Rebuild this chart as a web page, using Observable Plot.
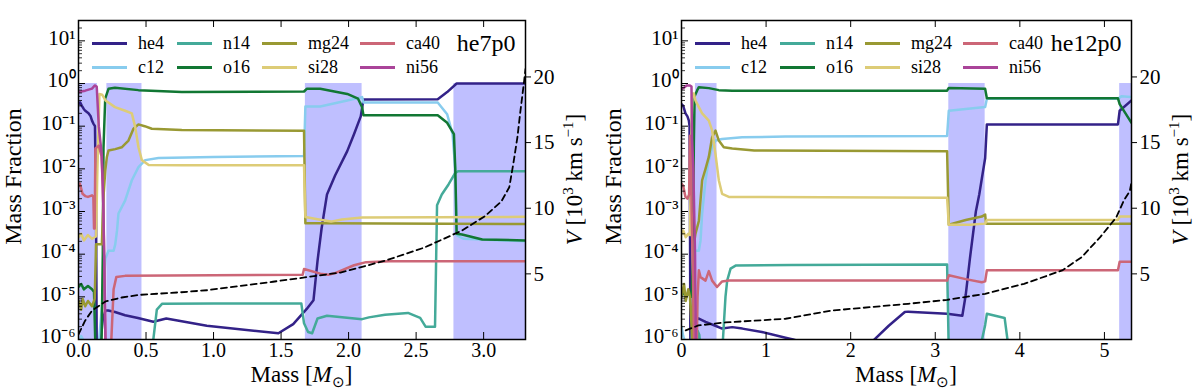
<!DOCTYPE html>
<html><head><meta charset="utf-8">
<script src="https://cdn.jsdelivr.net/npm/d3@7"></script>
<script src="https://cdn.jsdelivr.net/npm/@observablehq/plot@0.6"></script>
<style>
body{margin:0;background:#fff;}
#wrap{position:relative;width:1200px;height:389px;font-family:"Liberation Serif",serif;}
.panel{position:absolute;top:0;width:600px;height:389px;}
.panel svg{position:absolute;left:0;top:0;}
.leg{position:absolute;display:flex;align-items:center;height:22px;color:#000;white-space:nowrap;}
.leg span{display:inline-block;width:35px;height:0;margin-right:11px;}
</style></head><body><div id="wrap"></div><script>
// ---------- shared ----------
const species = ["he4","c12","n14","o16","mg24","si28","ca40","ni56"];
const colors  = ["#332288","#88ccee","#44aa99","#117733","#999933","#ddcc77","#cc6677","#aa4499"];
const logDomain = [1e-6, 30];
const velDomain = [0, 24.3];
const velTicks = [5, 10, 15, 20];

// ---------- he7p0 ----------
const he7Title = "he7p0";
const he7XTicks = [0, 0.5, 1.0, 1.5, 2.0, 2.5, 3.0];
const he7XDomain = [0, 3.31];
const he7Spans = [[0,0.14],[0.21,0.47],[1.68,2.10],[2.78,3.31]];
const he7_he4 = [[0,0.33],[0.012,0.36],[0.025,0.3],[0.04,0.25],[0.05,0.23],[0.074,0.2],[0.09,0.17],[0.1,0.135],[0.11,0.115],[0.122,0.1],[0.13,1e-3],[0.135,7e-7],[0.16,7e-7],[0.18,3e-6],[0.2,4.8e-6],[0.22,4.8e-6],[0.27,4.4e-6],[0.345,3.7e-6],[0.44,3.2e-6],[0.554,2.6e-6],[0.65,3.1e-6],[0.95,2.1e-6],[1.48,1.4e-6],[1.59,2.3e-6],[1.69,5.2e-6],[1.74,8.3e-6],[1.77,7e-5],[1.80,4e-4],[1.84,2.5e-3],[1.9,7e-3],[1.99,0.026],[2.04,0.065],[2.09,0.17],[2.11,0.42],[2.66,0.43],[2.73,0.63],[2.8,1.0],[3.31,1.0]];
const he7_c12 = [[0,7e-7],[0.02,1.2e-6],[0.05,8e-7],[0.15,8e-7],[0.18,1e-5],[0.2,8e-5],[0.222,1.2e-4],[0.26,1.2e-4],[0.272,1.7e-4],[0.285,3.5e-4],[0.296,9e-4],[0.345,1.8e-3],[0.395,5.4e-3],[0.444,0.011],[0.494,0.016],[0.592,0.018],[1.0,0.019],[1.67,0.02],[1.68,0.29],[1.79,0.29],[1.99,0.4],[2.1,0.48],[2.11,0.36],[2.66,0.36],[2.73,0.19],[2.77,0.065],[2.79,0.01],[2.8,2.8e-4],[2.85,2.3e-4],[3.31,2e-4]];
const he7_n14 = [[0.54,6e-7],[0.554,1e-6],[0.58,5e-6],[0.62,6.9e-6],[1.0,7e-6],[1.65,7e-6],[1.67,2.4e-6],[1.7,1.5e-6],[1.73,1.4e-6],[1.77,3.1e-6],[1.84,3.6e-6],[2.1,3e-6],[2.15,3.3e-6],[2.27,3.8e-6],[2.44,4.2e-6],[2.53,3.2e-6],[2.57,2e-6],[2.64,2e-6],[2.655,1.4e-3],[2.69,2.5e-3],[2.74,4.3e-3],[2.79,8e-3],[2.81,8.8e-3],[3.31,8.8e-3]];
const he7_o16 = [[0,1.7e-5],[0.02,2e-5],[0.04,1.5e-5],[0.07,1.8e-5],[0.1,1.5e-5],[0.115,1.3e-5],[0.125,7e-7],[0.17,7e-7],[0.18,1e-4],[0.185,0.03],[0.198,0.45],[0.222,0.75],[0.27,0.8],[0.444,0.7],[0.765,0.63],[1.67,0.65],[1.69,0.75],[1.79,0.75],[1.99,0.57],[2.07,0.44],[2.1,0.28],[2.11,0.18],[2.66,0.18],[2.73,0.12],[2.78,0.065],[2.79,0.01],[2.8,3e-4],[2.84,2.9e-4],[2.99,2.2e-4],[3.31,2.1e-4]];
const he7_mg24 = [[0,8e-6],[0.02,5e-6],[0.03,9e-6],[0.05,6e-6],[0.07,8e-6],[0.1,6e-6],[0.12,9e-6],[0.13,1.7e-4],[0.15,1.7e-4],[0.173,1.7e-4],[0.185,2.2e-3],[0.198,9e-3],[0.21,0.019],[0.222,0.027],[0.272,0.029],[0.32,0.032],[0.37,0.046],[0.407,0.087],[0.444,0.11],[0.49,0.1],[0.543,0.087],[0.765,0.081],[1.67,0.078],[1.68,5.3e-4],[1.8,5.3e-4],[3.31,5.1e-4]];
const he7_si28 = [[0,2.5e-4],[0.02,3e-4],[0.04,2.1e-4],[0.07,2.8e-4],[0.1,2.3e-4],[0.13,2.6e-4],[0.14,0.01],[0.155,0.57],[0.175,0.55],[0.2,0.4],[0.27,0.28],[0.345,0.23],[0.395,0.2],[0.42,0.095],[0.444,0.032],[0.469,0.016],[0.52,0.0123],[0.76,0.0122],[1.67,0.0122],[1.68,7.4e-4],[1.78,6.5e-4],[1.87,5.8e-4],[1.95,6.5e-4],[2.1,7.2e-4],[3.31,7.5e-4]];
const he7_ca40 = [[0,4e-3],[0.01,4.5e-3],[0.03,2.6e-3],[0.05,2.3e-3],[0.07,2.2e-3],[0.1,2.4e-3],[0.11,2.2e-3],[0.115,4e-4],[0.12,4e-4],[0.125,0.03],[0.15,0.035],[0.17,0.02],[0.18,4e-3],[0.19,1e-4],[0.2,6e-7],[0.24,6e-7],[0.26,1.5e-5],[0.28,2.9e-5],[0.345,3.1e-5],[1.0,3.2e-5],[1.66,3.3e-5],[1.67,4.5e-5],[1.79,3.5e-5],[1.85,3.3e-5],[1.9,3.6e-5],[2.04,5.5e-5],[2.13,6.5e-5],[2.3,6.8e-5],[3.31,6.8e-5]];
const he7_ni56 = [[0,0.63],[0.05,0.68],[0.1,0.76],[0.12,0.9],[0.135,0.85],[0.15,0.1],[0.173,0.02],[0.185,1e-3],[0.2,1e-6],[0.205,6e-7]];
const he7_vel = [[0,0.4],[0.05,1.45],[0.1,2.2],[0.2,2.9],[0.32,3.2],[0.45,3.4],[0.76,3.6],[0.95,3.75],[1.44,4.4],[1.94,5.1],[2.27,6.0],[2.56,7.0],[2.84,8.3],[3.01,9.4],[3.13,10.5],[3.19,11.6],[3.22,13.4],[3.25,15.4],[3.27,17.2],[3.30,19.7],[3.31,20.6]];

// ---------- he12p0 ----------
const he12Title = "he12p0";
const he12XTicks = [0, 1, 2, 3, 4, 5];
const he12XDomain = [0, 5.32];
const he12Spans = [[0.165,0.42],[3.16,3.59],[5.18,5.32]];
const he12_he4 = [[0,0.33],[0.02,0.3],[0.047,0.2],[0.07,0.17],[0.087,0.135],[0.095,0.1],[0.1,1e-3],[0.105,7e-7],[0.15,7e-7],[0.165,2.3e-6],[0.19,3.1e-6],[0.205,3.1e-6],[0.284,2.6e-6],[0.4,2.1e-6],[0.48,1.8e-6],[0.6,1.95e-6],[0.72,1.8e-6],[0.95,1.5e-6],[1.23,1.1e-6],[1.32,1e-6],[1.6,7e-7],[2.0,5e-7],[2.23,8e-7],[2.45,2.1e-6],[2.64,4.4e-6],[2.68,4.5e-6],[3.14,4e-6],[3.32,3.6e-6],[3.36,1.1e-5],[3.41,8e-5],[3.48,1e-3],[3.52,2.5e-3],[3.59,0.018],[3.61,0.11],[5.16,0.11],[5.18,0.23],[5.32,0.4]];
const he12_c12 = [[0,2e-6],[0.02,1.2e-6],[0.05,8e-7],[0.12,8e-7],[0.14,1e-5],[0.146,1.2e-4],[0.205,1.2e-4],[0.225,2.1e-4],[0.244,9e-4],[0.284,5.4e-3],[0.323,0.016],[0.362,0.032],[0.402,0.046],[0.48,0.05],[0.717,0.055],[1.23,0.057],[3.14,0.059],[3.16,0.23],[3.59,0.28],[3.61,0.44],[5.16,0.44],[5.2,0.5],[5.32,0.48]];
const he12_n14 = [[0,5e-7],[0.17,5e-7],[0.19,1.6e-6],[0.21,1.3e-6],[0.23,5e-7],[0.47,6e-7],[0.49,1e-6],[0.52,1e-5],[0.54,2.4e-5],[0.58,4.6e-5],[0.64,5.4e-5],[1.3,5.6e-5],[3.14,5.7e-5],[3.16,5e-7],[3.52,5e-7],[3.59,2.2e-6],[3.61,4e-6],[3.82,3.2e-6],[3.86,8e-7],[3.9,5e-7]];
const he12_o16 = [[0,1.5e-5],[0.05,1e-5],[0.1,1.3e-5],[0.12,1e-5],[0.135,1e-4],[0.146,0.04],[0.155,0.5],[0.185,0.69],[0.205,0.82],[0.323,0.78],[0.441,0.7],[0.6,0.68],[3.14,0.68],[3.16,0.79],[3.59,0.75],[3.61,0.45],[5.16,0.45],[5.18,0.33],[5.32,0.12]];
const he12_mg24 = [[0,1e-5],[0.03,2e-5],[0.05,8e-6],[0.08,1.5e-5],[0.1,1e-5],[0.13,8e-7],[0.146,1.7e-4],[0.165,3e-4],[0.205,6e-4],[0.244,5.4e-3],[0.284,0.01],[0.323,0.019],[0.362,0.055],[0.402,0.079],[0.441,0.046],[0.5,0.032],[0.6,0.03],[0.86,0.027],[3.14,0.026],[3.16,4.9e-4],[3.36,6.3e-4],[3.55,7.6e-4],[3.59,8.5e-4],[3.6,5.2e-4],[5.32,5.2e-4]];
const he12_si28 = [[0,3e-4],[0.02,3.6e-4],[0.05,2.5e-4],[0.08,3e-4],[0.1,2.8e-4],[0.11,0.01],[0.126,0.58],[0.146,0.58],[0.165,0.4],[0.205,0.28],[0.244,0.2],[0.323,0.135],[0.362,0.08],[0.402,0.022],[0.441,5.4e-3],[0.48,2.6e-3],[0.56,2.2e-3],[0.86,2.2e-3],[3.14,2.1e-3],[3.16,4.9e-4],[3.41,4.9e-4],[3.59,5.2e-4],[3.61,6.3e-4],[5.16,6.3e-4],[5.18,7.6e-4],[5.32,7.6e-4]];
const he12_ca40 = [[0,4.5e-3],[0.02,4e-3],[0.047,2.2e-3],[0.07,2e-3],[0.09,2.5e-3],[0.1,0.06],[0.11,0.03],[0.12,1e-3],[0.14,1e-5],[0.15,6e-7],[0.18,6e-7],[0.19,1e-5],[0.205,4.2e-5],[0.225,2.9e-5],[0.284,2.4e-5],[0.323,4e-5],[0.362,2.4e-5],[0.42,1.7e-5],[0.48,2.3e-5],[0.56,2.4e-5],[3.14,2.4e-5],[3.16,3.2e-5],[3.36,2.6e-5],[3.55,2.2e-5],[3.59,2.3e-5],[3.61,4.2e-5],[5.16,4.2e-5],[5.18,6.6e-5],[5.32,6.6e-5]];
const he12_ni56 = [[0,0.75],[0.03,0.8],[0.06,0.9],[0.1,0.9],[0.118,0.85],[0.125,0.05],[0.14,0.01],[0.16,1e-4],[0.17,6e-7]];
const he12_vel = [[0.05,0.7],[0.2,1.07],[0.52,1.3],[1.23,1.58],[1.77,2.2],[2.68,2.72],[3.14,3.02],[3.59,3.48],[4.05,4.24],[4.5,5.26],[4.73,6.27],[4.95,7.8],[5.14,9.3],[5.23,10.6],[5.3,11.3],[5.32,12.0]];

// ---------- drawing ----------
const W = 600, H = 389, MT = 20, MB = 50;
const sup = {"-":"⁻","0":"⁰","1":"¹","2":"²","3":"³","4":"⁴","5":"⁵","6":"⁶","7":"⁷","8":"⁸","9":"⁹"};
const logFmt = v => "10" + String(Math.round(Math.log10(v))).split("").map(c => sup[c]).join("");
const majors = d3.range(-6, 2).map(k => Math.pow(10, k));
const minors = [];
for (let k = -6; k <= 1; k++) for (let j = 2; j <= 9; j++) { const v = j * Math.pow(10, k); if (v < logDomain[1]) minors.push(v); }
const FONT = "Liberation Serif";
const STYLE = "font-family:'Liberation Serif',serif;font-size:20px;background:transparent;overflow:visible;";

function drawPanel(left, cfg) {
  const {ml, mr, title, xDomain, xTicks, xFmt, spans, series, vel} = cfg;
  const pw = W - ml - mr, ph = H - MT - MB;
  const div = document.createElement("div");
  div.className = "panel"; div.style.left = left + "px";
  document.getElementById("wrap").appendChild(div);
  const common = {width: W, height: H, marginLeft: ml, marginRight: mr, marginTop: MT, marginBottom: MB, style: STYLE};
  const marks = [
    Plot.rect(spans, {x1: d => d[0], x2: d => d[1], y1: () => logDomain[0], y2: () => 1, fill: "#0000ff", fillOpacity: 0.25}),
    ...series.map((s, i) => Plot.line(s, {x: d => d[0], y: d => d[1], stroke: colors[i], strokeWidth: 2.5, clip: true})),
    Plot.tickY(majors, {y: d => d, insetRight: pw - 7, stroke: "black", strokeWidth: 1}),
    Plot.tickY(minors, {y: d => d, insetRight: pw - 4, stroke: "black", strokeWidth: 0.8}),
    Plot.tickX(xTicks, {x: d => d, insetTop: ph - 7, stroke: "black", strokeWidth: 1}),
    Plot.tickX(xTicks, {x: d => d, insetBottom: ph - 7, stroke: "black", strokeWidth: 1}),
    Plot.axisY({ticks: majors, tickSize: 0, tickPadding: 3, tickFormat: logFmt, label: null, fontSize: 21, dy: -3}),
    Plot.axisX({ticks: xTicks, tickSize: 0, tickPadding: 3, tickFormat: xFmt, label: null, fontSize: 20}),
    Plot.text([title], {frameAnchor: "top-right", dx: -10, dy: 23, text: d => d, fontSize: 24, textAnchor: "end", lineAnchor: "middle"}),
    Plot.frame({stroke: "black", strokeWidth: 1.5})
  ];
  const main = Plot.plot({...common, x: {domain: xDomain}, y: {type: "log", domain: logDomain}, marks});
  div.appendChild(main);
  const over = Plot.plot({...common, x: {domain: xDomain, axis: null}, y: {domain: velDomain, axis: null},
    marks: [
      Plot.line(vel, {x: d => d[0], y: d => d[1], stroke: "black", strokeWidth: 1.8, strokeDasharray: "6,4", clip: true}),
      Plot.axisY({ticks: velTicks, anchor: "right", tickSize: 5, tickPadding: 3, tickFormat: d => String(d), label: null, fontSize: 21})
    ]});
  div.appendChild(over);

  // axis titles
  const s = d3.select(main);
  const mx = s.append("text").attr("x", (ml + W - mr) / 2).attr("y", 382).attr("text-anchor", "middle")
    .attr("font-family", FONT).attr("font-size", 23);
  mx.append("tspan").text("Mass [");
  mx.append("tspan").attr("font-style", "italic").text("M");
  mx.append("tspan").attr("font-size", 15).attr("dy", 5).text("⊙");
  mx.append("tspan").attr("dy", -5).text("]");
  s.append("text").attr("transform", `translate(21,${MT + ph / 2 - 3}) rotate(-90)`).attr("text-anchor", "middle")
    .attr("font-family", FONT).attr("font-size", 24).text("Mass Fraction");
  const vt = s.append("text").attr("transform", `translate(${W - mr + 57},${MT + ph / 2}) rotate(-90)`).attr("text-anchor", "middle")
    .attr("font-family", FONT).attr("font-size", 23);
  vt.append("tspan").attr("font-style", "italic").text("V");
  vt.append("tspan").text(" [10");
  vt.append("tspan").attr("font-size", 15).attr("dy", -9).text("3");
  vt.append("tspan").attr("dy", 9).text(" km s");
  vt.append("tspan").attr("font-size", 15).attr("dy", -9).text("−1");
  vt.append("tspan").attr("dy", 9).text("]");

  // legend
  const legX = [ml + 14, ml + 99, ml + 184, ml + 282];
  const legY = [43, 67];
  species.forEach((sp, i) => {
    const col = Math.floor(i / 2), row = i % 2;
    const it = document.createElement("div");
    it.className = "leg";
    it.style.left = legX[col] + "px";
    it.style.top = (legY[row] - 11) + "px";
    it.style.fontFamily = "'Liberation Serif', serif";
    it.style.fontSize = "18px";
    it.innerHTML = `<span style="border-top:3px solid ${colors[i]}"></span>${sp}`;
    div.appendChild(it);
  });
}

drawPanel(0, {ml: 78, mr: 75, title: he7Title, xDomain: he7XDomain, xTicks: he7XTicks, xFmt: d3.format(".1f"),
  spans: he7Spans, series: [he7_he4, he7_c12, he7_n14, he7_o16, he7_mg24, he7_si28, he7_ca40, he7_ni56], vel: he7_vel});
drawPanel(600, {ml: 81, mr: 69, title: he12Title, xDomain: he12XDomain, xTicks: he12XTicks, xFmt: d3.format("d"),
  spans: he12Spans, series: [he12_he4, he12_c12, he12_n14, he12_o16, he12_mg24, he12_si28, he12_ca40, he12_ni56], vel: he12_vel});
</script></body></html>
